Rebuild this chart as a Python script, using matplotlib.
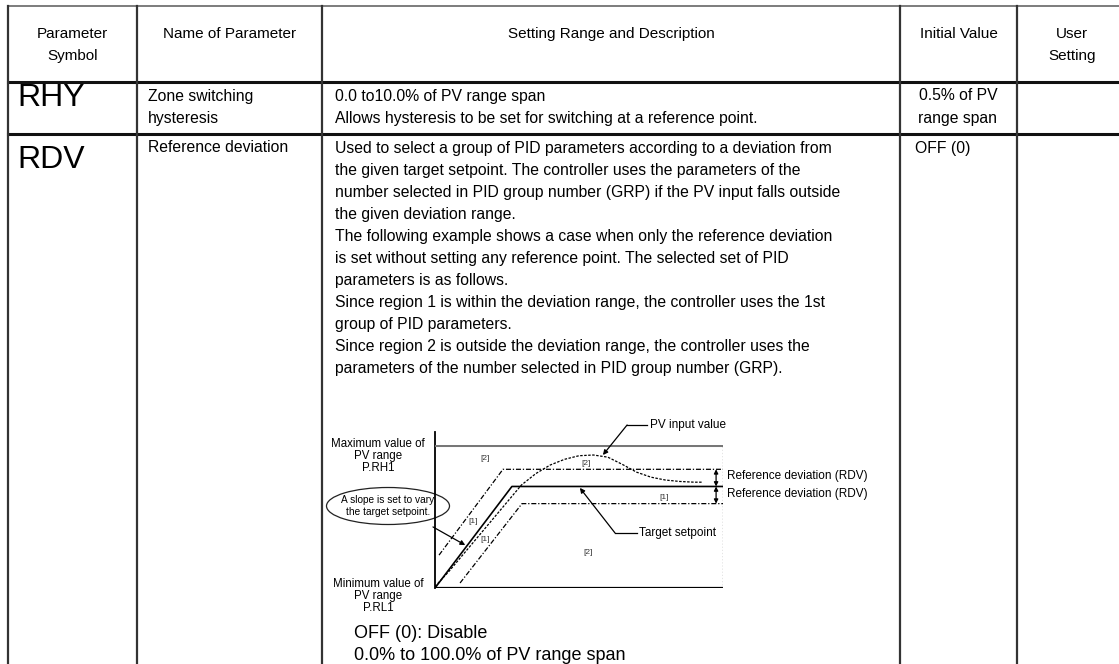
import matplotlib.pyplot as plt
from matplotlib.patches import Ellipse

plt.rcParams['font.family'] = ['Liberation Sans', 'DejaVu Sans']

# ---- table content ----
headers = [["Parameter", "Symbol"], ["Name of Parameter"], ["Setting Range and Description"],
           ["Initial Value"], ["User", "Setting"]]
col_edges = [8, 137, 322, 900, 1017, 1130]
row_edges = [6, 82, 134]

symbols = ["RHY", "RDV"]
names = [["Zone switching", "hysteresis"], ["Reference deviation"]]
descriptions = [
    ["0.0 to10.0% of PV range span",
     "Allows hysteresis to be set for switching at a reference point."],
    ["Used to select a group of PID parameters according to a deviation from",
     "the given target setpoint. The controller uses the parameters of the",
     "number selected in PID group number (GRP) if the PV input falls outside",
     "the given deviation range.",
     "The following example shows a case when only the reference deviation",
     "is set without setting any reference point. The selected set of PID",
     "parameters is as follows.",
     "Since region 1 is within the deviation range, the controller uses the 1st",
     "group of PID parameters.",
     "Since region 2 is outside the deviation range, the controller uses the",
     "parameters of the number selected in PID group number (GRP)."],
]
initial_values = [["0.5% of PV", "range span"], ["OFF (0)"]]
rdv_options = ["OFF (0): Disable", "0.0% to 100.0% of PV range span"]

# ---- diagram data (time 0-100, PV range 0-100 %) ----
setpoint_t = [0, 26.7, 100]
setpoint_v = [0, 71, 71]
upper_dev_t = [1.4, 23.6, 100]
upper_dev_v = [23, 83, 83]
lower_dev_t = [8.7, 30.2, 100]
lower_dev_v = [3.5, 59, 59]
pv_t = [0, 5, 10, 15, 20, 25, 30, 35, 40, 45, 50, 55, 60, 65, 70, 75, 80, 85, 90, 93]
pv_v = [1, 12, 24, 36, 48, 60, 72, 80, 86, 90, 92.5, 93, 91.5, 86.5, 81, 77.5, 75.5, 74.5, 74, 74]
region_text = ["[2]", "[2]", "[1]", "[1]", "[2]", "[1]"]
region_t = [17.4, 52.4, 13.2, 17.4, 53.1, 79.5]
region_v = [90.9, 87.4, 46.2, 33.6, 24.5, 63.6]

W, H = 1119, 664
fig = plt.figure(figsize=(W / 100, H / 100), dpi=100)
ax = fig.add_axes([0, 0, 1, 1])
ax.set_xlim(0, W)
ax.set_ylim(H, 0)
ax.axis('off')

# table grid
ax.plot([col_edges[0], W], [row_edges[0]] * 2, color='#666666', lw=1.2)
for y in row_edges[1:]:
    ax.plot([col_edges[0], W], [y, y], color='#111111', lw=2.2)
for x in col_edges[:-1]:
    ax.plot([x, x], [row_edges[0], H], color='#333333', lw=1.6)

# header
for i, h in enumerate(headers):
    cx = (col_edges[i] + col_edges[i + 1]) / 2
    if i == 4:
        cx = 1072
    for k, s in enumerate(h):
        ax.text(cx, 34 + k * 22, s, ha='center', va='center', fontsize=11)

fs = 11.3
lh = 22
row_top = [96, 148]
for r in range(2):
    y0 = row_top[r]
    ax.text(17, y0 + 2 if r == 0 else y0 + 12, symbols[r], fontsize=23, va='center', ha='left')
    for k, s in enumerate(names[r]):
        ax.text(148, y0 + k * lh, s, fontsize=fs, va='center')
    for k, s in enumerate(descriptions[r]):
        ax.text(335, y0 + k * lh, s, fontsize=fs, va='center')
    for k, s in enumerate(initial_values[r]):
        if r == 0:
            ax.text(958, y0 + k * lh, s, fontsize=fs, va='center', ha='center')
        else:
            ax.text(915, y0 + k * lh, s, fontsize=fs, va='center')

for k, s in enumerate(rdv_options):
    ax.text(354, 633 + k * 22, s, fontsize=13, va='center')

# diagram side labels
ax.text(378, 456, "Maximum value of\nPV range\nP.RH1", ha='center', va='center',
        fontsize=8.3, linespacing=1.05)
ax.text(378, 596, "Minimum value of\nPV range\nP.RL1", ha='center', va='center',
        fontsize=8.3, linespacing=1.05)
ax.add_patch(Ellipse((388, 506), 123, 37, fill=False, lw=0.9, color='#222222'))
ax.text(388, 506, "A slope is set to vary\nthe target setpoint.", ha='center', va='center',
        fontsize=7.3, linespacing=1.2)
ax.text(727, 476, "Reference deviation (RDV)", fontsize=8.5, va='center')
ax.text(727, 494, "Reference deviation (RDV)", fontsize=8.5, va='center')

# ---- diagram axes ----
dx0, dx1, dy0, dy1 = 435, 723, 445, 588
dg = fig.add_axes([dx0 / W, 1 - dy1 / H, (dx1 - dx0) / W, (dy1 - dy0) / H])
dg.set_xlim(0, 100)
dg.set_ylim(0, 100)
dg.set_facecolor('none')
dg.axis('off')

dg.plot([0, 0], [0, 109], color='black', lw=1.3, clip_on=False)
dg.axhline(0, color='black', lw=1.6)
dg.axhline(100, color='#777777', lw=2.2)
dg.axvline(100, color='#333333', lw=0.9, ls=(0, (1, 1.5)))

dg.plot(setpoint_t, setpoint_v, color='black', lw=1.2)
dg.plot(upper_dev_t, upper_dev_v, color='black', lw=0.9, ls=(0, (4, 1.5, 1, 1.5)))
dg.plot(lower_dev_t, lower_dev_v, color='black', lw=0.9, ls=(0, (4, 1.5, 1, 1.5)))
dg.plot(pv_t, pv_v, color='black', lw=0.9, ls=(0, (2, 1.2)))

for s, t, v in zip(region_text, region_t, region_v):
    dg.text(t, v, s, fontsize=6, ha='center', va='center', color='#333333')

arrow = dict(arrowstyle='-|>', color='black', lw=0.9, mutation_scale=7, shrinkA=0, shrinkB=0)
# PV input value leader
dg.plot([66.7, 73.6], [114, 114], color='black', lw=0.9, clip_on=False)
dg.annotate('', xy=(58.3, 93), xytext=(66.7, 114), arrowprops=arrow, annotation_clip=False)
dg.text(74.5, 114, "PV input value", fontsize=8.5, va='center')
# Target setpoint leader
dg.plot([62.5, 70.1], [38.5, 38.5], color='black', lw=0.9)
dg.annotate('', xy=(50.3, 70), xytext=(62.5, 38.5), arrowprops=arrow)
dg.text(70.8, 38.5, "Target setpoint", fontsize=8.5, va='center')
# slope arrow from the callout
dg.annotate('', xy=(10.5, 30), xytext=(-0.7, 42.7), arrowprops=arrow, annotation_clip=False)
# reference deviation double arrows
darrow = dict(arrowstyle='<|-|>', color='black', lw=0.9, mutation_scale=6, shrinkA=0, shrinkB=0)
dg.annotate('', xy=(97.6, 83), xytext=(97.6, 71), arrowprops=darrow)
dg.annotate('', xy=(97.6, 71), xytext=(97.6, 59), arrowprops=darrow)

fig.savefig('out.png', dpi=100)
